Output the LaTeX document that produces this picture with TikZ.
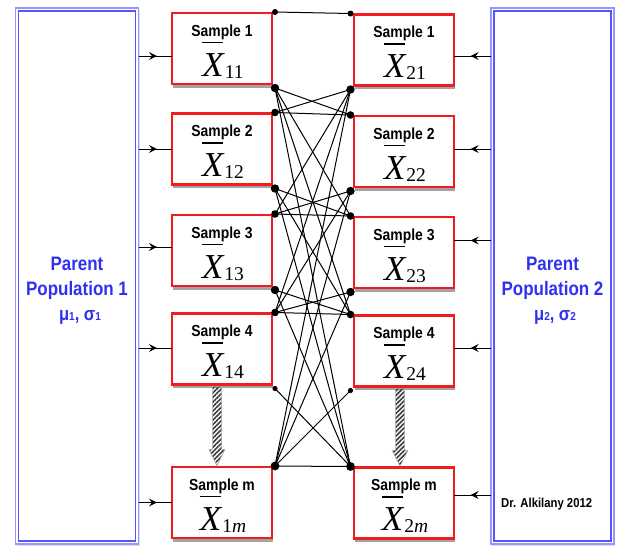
\documentclass[tikz,border=0pt]{standalone}
\usepackage{fontspec}
\setmainfont{Liberation Serif}
\newfontfamily\headfont[FakeStretch=0.87]{Liberation Sans}
\newfontfamily\meanfont{Liberation Serif}
\usetikzlibrary{arrows.meta,patterns.meta,shadows,decorations.markings,calc}

\definecolor{boxred}{RGB}{240,28,32}
\definecolor{popouter}{RGB}{150,150,255}
\definecolor{popinner}{RGB}{85,85,250}
\definecolor{poptext}{RGB}{48,48,240}
\definecolor{hatchgray}{RGB}{60,60,60}

% sample mean: barred italic X with an upright subscript
\newcommand{\meanX}[1]{%
  \makebox[0pt][l]{\raisebox{33pt}{\rule{21pt}{1.5pt}}}%
  {\meanfont\itshape\fontsize{35}{35}\selectfont X}%
  \kern1pt\raisebox{-2pt}{\meanfont\fontsize{19.5}{19.5}\selectfont #1}}
% small lowered index for the population parameters
\newcommand{\lowidx}[1]{\raisebox{-0.5pt}{\fontsize{11.5}{11.5}\selectfont #1}}

\tikzset{
  sample/.style={draw=boxred, line width=2.3pt, fill=white,
    minimum width=100pt, minimum height=71pt, inner sep=0pt, outer sep=0pt,
    drop shadow={shadow xshift=1pt, shadow yshift=-3.5pt, opacity=0.45, fill=black!80}},
  parent/.style={draw=popouter, line width=1.6pt, fill=white,
    minimum width=123pt, minimum height=536pt, inner sep=0pt, outer sep=0pt,
    drop shadow={shadow xshift=1pt, shadow yshift=-1.5pt, opacity=0.25}},
  parentin/.style={draw=popinner, line width=1.2pt},
  head/.style={font=\headfont\bfseries\fontsize{16}{16}\selectfont, inner sep=0pt, anchor=base},
  meanlab/.style={inner sep=0pt, anchor=base},
  poplab/.style={text=poptext, font=\headfont\bfseries\fontsize{19.5}{19.5}\selectfont, inner sep=0pt, anchor=base},
  popsub/.style={text=poptext, font=\headfont\bfseries\fontsize{19}{19}\selectfont, inner sep=0pt, anchor=base},
  feed/.style={line width=1pt, decoration={markings,
    mark=at position 0.55 with {\arrow{Stealth[length=8pt,width=8pt,inset=3pt]}}},
    postaction={decorate}},
  hatch/.style={pattern={Lines[angle=45,distance=3.2pt,line width=1.6pt]}, pattern color=hatchgray,
    draw=gray!70, line width=0.5pt},
  link/.style={line width=1pt},
}

\begin{document}
\begin{tikzpicture}[x=1pt,y=-1pt]
\useasboundingbox (0,0) rectangle (621,547);
\fill[white] (0,0) rectangle (621,547);

% parent populations
\node[parent] (P1) at (77,276) {};
\draw[parentin] ([shift={(3pt,-3pt)}]P1.north west) rectangle ([shift={(-3pt,3pt)}]P1.south east);
\node[parent] (P2) at (552.5,276) {};
\draw[parentin] ([shift={(3pt,-3pt)}]P2.north west) rectangle ([shift={(-3pt,3pt)}]P2.south east);

\node[poplab] (P1a) at (77,270) {Parent};
\node[poplab] (P1b) at (77,295) {Population 1};
\node[popsub] (P1c) at (80,320) {μ\lowidx{1}, σ\lowidx{1}};
\node[poplab] (P2a) at (552.5,270) {Parent};
\node[poplab] (P2b) at (552.5,295) {Population 2};
\node[popsub] (P2c) at (555,320) {μ\lowidx{2}, σ\lowidx{2}};
\node[anchor=base west, inner sep=0pt, font=\headfont\bfseries\fontsize{13}{13}\selectfont] (cred) at (501,507) {Dr. Alkilany 2012};

% samples drawn from population 1
\node[sample] (L1) at (222,48.5) {};
\node[sample] (L2) at (222,149) {};
\node[sample] (L3) at (222,250.5) {};
\node[sample] (L4) at (222,349) {};
\node[sample] (L5) at (222,502.5) {};
% samples drawn from population 2
\node[sample] (R1) at (404,50) {};
\node[sample] (R2) at (404,151.5) {};
\node[sample] (R3) at (404,252.5) {};
\node[sample] (R4) at (404,351) {};
\node[sample] (R5) at (404,503) {};

\foreach \b/\t/\s in {L1/Sample 1/11, L2/Sample 2/12, L3/Sample 3/13, L4/Sample 4/14, L5/Sample m/1\textit{m},
                      R1/Sample 1/21, R2/Sample 2/22, R3/Sample 3/23, R4/Sample 4/24, R5/Sample m/2\textit{m}}{
  \node[head] (\b h) at ([yshift=-23pt]\b.north) {\t};
  \node[meanlab] (\b x) at ([yshift=-63pt,xshift=1pt]\b.north) {\meanX{\s}};
}

% population -> sample feeds
\coordinate (fl1) at ([yshift=-7.5pt]L1.west);
\coordinate (fl2) at (L2.west);
\coordinate (fl3) at ([yshift=3.5pt]L3.west);
\coordinate (fl4) at ([yshift=1pt]L4.west);
\coordinate (fl5) at (L5.west);
\coordinate (fr1) at ([yshift=-6pt]R1.east);
\coordinate (fr2) at ([yshift=2.5pt]R2.east);
\coordinate (fr3) at ([yshift=12pt]R3.east);
\coordinate (fr4) at ([yshift=3pt]R4.east);
\coordinate (fr5) at ([yshift=8pt]R5.east);
\foreach \k in {1,...,5}{
  \draw[feed] (P1.east |- fl\k) -- (fl\k);
  \draw[feed] (P2.west |- fr\k) -- (fr\k);
}

% "and so on" arrows down to sample m
\coordinate (h1s) at ([xshift=-5pt,yshift=-2pt]L4.south);
\coordinate (h1e) at ([xshift=-5pt,yshift=1.5pt]L5.north);
\coordinate (h2s) at ([xshift=-4pt,yshift=-2pt]R4.south);
\coordinate (h2e) at ([xshift=-4pt,yshift=1.5pt]R5.north);
\foreach \h in {1,2}{
  \draw[hatch] ([xshift=-4.5pt]h\h s) -- ([shift={(-4.5pt,16pt)}]h\h e) -- ([shift={(-8pt,16pt)}]h\h e)
    -- (h\h e) -- ([shift={(8pt,16pt)}]h\h e) -- ([shift={(4.5pt,16pt)}]h\h e) -- ([xshift=4.5pt]h\h s) -- cycle;
}

% corner points used by the pairings
\foreach \i in {1,...,5}{
  \coordinate (Lt\i) at ([xshift=3pt,yshift=1pt]L\i.north east);
  \coordinate (Lb\i) at ([xshift=3pt,yshift=-4pt]L\i.south east);
  \coordinate (Rt\i) at ([xshift=-3.5pt,yshift=1pt]R\i.north west);
  \coordinate (Rb\i) at ([xshift=-3.5pt,yshift=-4pt]R\i.south west);
}

% every sample of population 1 paired with every sample of population 2
\foreach \i in {1,...,5}{
  \foreach \j in {1,...,5}{
    \ifnum\i=\j
      \draw[link] (Lt\i) -- (Rt\j);
    \else\ifnum\i<\j
      \draw[link] (Lb\i) -- (Rt\j);
    \else
      \draw[link] (Lt\i) -- (Rb\j);
    \fi\fi
  }
}

\foreach \c/\r in {Lt1/3, Rt1/3, Lb4/2.6, Rb4/2.6,
                   Lb1/4.2, Lt2/3.8, Lb2/4.2, Lt3/3.8, Lb3/4.2, Lt4/3.8, Lt5/4.4,
                   Rb1/4.2, Rt2/3.8, Rb2/4.2, Rt3/3.8, Rb3/4.2, Rt4/3.8, Rt5/4.4}{
  \fill (\c) circle (\r pt);
}
\end{tikzpicture}
\end{document}
